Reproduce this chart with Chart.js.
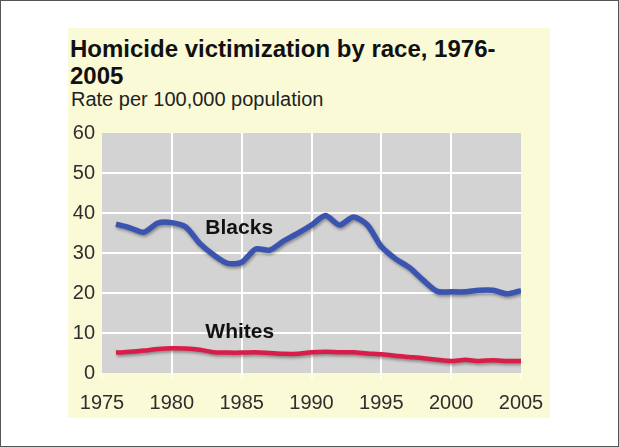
<!DOCTYPE html>
<html>
<head>
<meta charset="utf-8">
<script src="https://cdn.jsdelivr.net/npm/chart.js@4.4.1/dist/chart.umd.min.js"></script>
<style>
  html, body { margin: 0; padding: 0; background: #fff; }
  #wrap { position: relative; width: 619px; height: 447px; overflow: hidden; font-family: "Liberation Sans", Arial, sans-serif; }
  #panel { position: absolute; left: 68px; top: 28px; width: 482px; height: 390px; background: #fbfad6; }
  #title { position: absolute; left: 70px; top: 35px; font-size: 24px; line-height: 27px; font-weight: bold; color: #111; white-space: nowrap; }
  #sub { position: absolute; left: 71px; top: 89px; font-size: 20px; line-height: 20px; color: #222; white-space: nowrap; }
  #chart { position: absolute; left: 0; top: 0; }
  #frame { position: absolute; left: 0; top: 0; width: 619px; height: 447px; box-sizing: border-box; border: 1px solid #555; pointer-events: none; }
</style>
</head>
<body>
<div id="wrap">
  <div id="panel"></div>
  <div id="title">Homicide victimization by race, 1976-<br>2005</div>
  <div id="sub">Rate per 100,000 population</div>
  <canvas id="chart" width="619" height="447"></canvas>
  <div id="frame"></div>
</div>
<script>
// =======================
// Data
// =======================
const years = [1976, 1977, 1978, 1979, 1980, 1981, 1982, 1983, 1984, 1985,
               1986, 1987, 1988, 1989, 1990, 1991, 1992, 1993, 1994, 1995,
               1996, 1997, 1998, 1999, 2000, 2001, 2002, 2003, 2004, 2005];
const blacks = [37.2, 36.3, 35.2, 37.5, 37.6, 36.5, 32.4, 29.5, 27.4, 27.7,
                31.0, 30.7, 33.0, 34.9, 37.0, 39.4, 37.0, 39.0, 37.0, 31.6,
                28.6, 26.4, 23.2, 20.4, 20.3, 20.3, 20.7, 20.7, 19.8, 20.6];
const whites = [5.1, 5.3, 5.6, 6.0, 6.2, 6.1, 5.8, 5.2, 5.1, 5.1,
                5.2, 5.0, 4.8, 4.8, 5.2, 5.3, 5.2, 5.2, 4.9, 4.7,
                4.3, 4.0, 3.7, 3.3, 3.0, 3.3, 3.0, 3.2, 3.0, 3.0];
const xTicks = [1975, 1980, 1985, 1990, 1995, 2000, 2005];
const yTicks = [0, 10, 20, 30, 40, 50, 60];

// series labels drawn inside the plot
const labelNames = ["Blacks", "Whites"];
const labelYears = [1982.4, 1982.4];
const labelValues = [34.7, 8.7];

const FONT = '"Liberation Sans", Arial, sans-serif';

// =======================
// Plugins
// =======================
const backdrop = {
  id: 'backdrop',
  beforeDraw(chart) {
    const { ctx, chartArea: a } = chart;
    ctx.save();
    ctx.fillStyle = '#d3d3d3';
    ctx.fillRect(a.left, a.top, a.width, a.height);
    ctx.restore();
  }
};

const lineShadow = {
  id: 'lineShadow',
  beforeDatasetDraw(chart) {
    const ctx = chart.ctx;
    ctx.save();
    ctx.shadowColor = 'rgba(0,0,0,0.35)';
    ctx.shadowBlur = 3;
    ctx.shadowOffsetX = 1;
    ctx.shadowOffsetY = 2;
  },
  afterDatasetDraw(chart) {
    chart.ctx.restore();
  }
};

const seriesLabels = {
  id: 'seriesLabels',
  afterDatasetsDraw(chart) {
    const { ctx, scales } = chart;
    ctx.save();
    ctx.font = 'bold 21px ' + FONT;
    ctx.fillStyle = '#111';
    ctx.textAlign = 'left';
    ctx.textBaseline = 'alphabetic';
    labelNames.forEach((name, i) => {
      ctx.fillText(name, scales.x.getPixelForValue(labelYears[i]), scales.y.getPixelForValue(labelValues[i]));
    });
    ctx.restore();
  }
};

// =======================
// Chart
// =======================
const edgeHidden = (min, max) => c => (c.tick && (c.tick.value === min || c.tick.value === max)) ? 'rgba(0,0,0,0)' : '#ffffff';

new Chart(document.getElementById('chart').getContext('2d'), {
  type: 'line',
  data: {
    datasets: [
      { label: 'Blacks', data: years.map((y, i) => ({ x: y, y: blacks[i] })), borderColor: '#3a54b0', borderWidth: 5.5, pointRadius: 0, tension: 0.25, fill: false },
      { label: 'Whites', data: years.map((y, i) => ({ x: y, y: whites[i] })), borderColor: '#d81e48', borderWidth: 4.5, pointRadius: 0, tension: 0.25, fill: false }
    ]
  },
  options: {
    responsive: false,
    animation: false,
    layout: { padding: { left: 0, top: 133, right: 98, bottom: 0 } },
    plugins: { legend: { display: false }, tooltip: { enabled: false }, title: { display: false } },
    scales: {
      x: {
        type: 'linear', min: 1975, max: 2005,
        afterBuildTicks: s => { s.ticks = xTicks.map(v => ({ value: v })); },
        afterFit: s => { s.height = 74; },
        ticks: { callback: v => String(v), color: '#2e2e2e', font: { family: FONT, size: 20 }, padding: 12, maxRotation: 0, autoSkip: false },
        grid: { color: edgeHidden(1975, 2005), lineWidth: 2, drawTicks: true, tickLength: 6, tickColor: 'rgba(255,255,255,0.7)' },
        border: { display: false }
      },
      y: {
        min: 0, max: 60,
        afterBuildTicks: s => { s.ticks = yTicks.map(v => ({ value: v })); },
        afterFit: s => { s.width = 102; },
        ticks: { color: '#2e2e2e', font: { family: FONT, size: 20 }, padding: 7 },
        grid: { color: edgeHidden(0, 60), lineWidth: 2, drawTicks: false },
        border: { display: false }
      }
    }
  },
  plugins: [backdrop, lineShadow, seriesLabels]
});
</script>
</body>
</html>
